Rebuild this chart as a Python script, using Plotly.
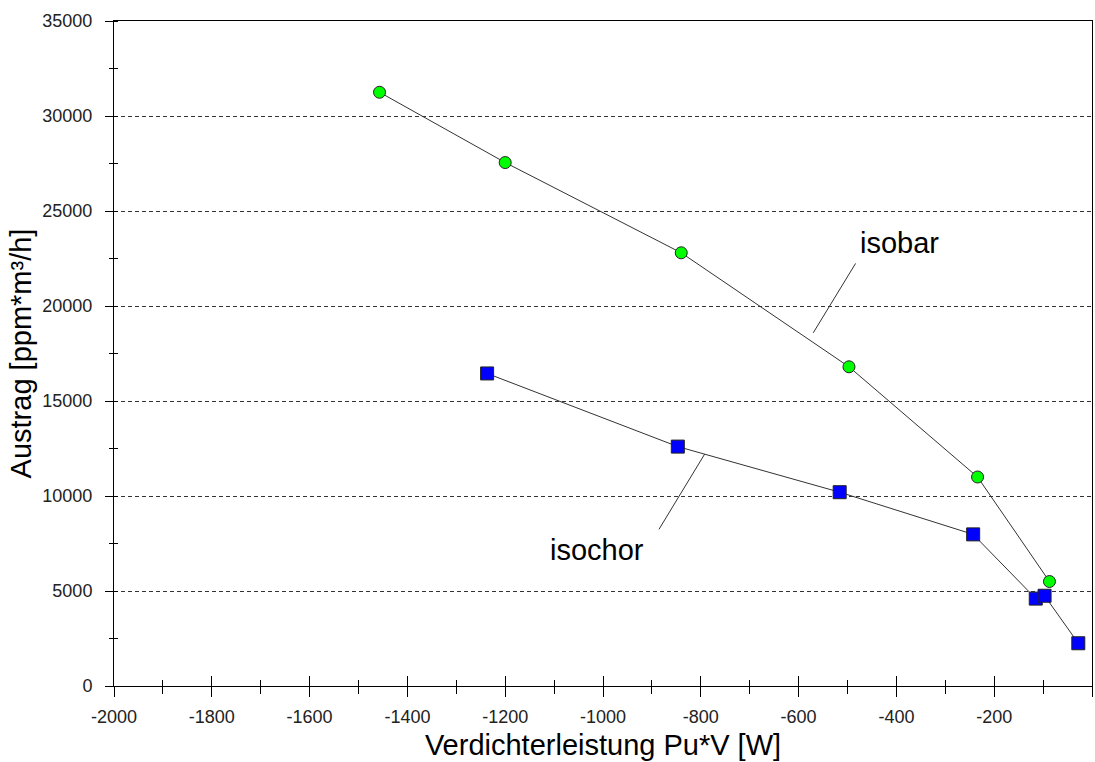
import plotly.graph_objects as go

# ---- data ----
isobar_x = [-1457, -1200, -840, -497, -234, -87]
isobar_y = [31250, 27550, 22800, 16800, 11000, 5500]
isochor_x = [-1237, -847, -516, -243, -115, -97, -28]
isochor_y = [16450, 12600, 10200, 7980, 4600, 4750, 2250]

x_tick_vals = [-2000, -1800, -1600, -1400, -1200, -1000, -800, -600, -400, -200, 0]
x_tick_text = ["-2000", "-1800", "-1600", "-1400", "-1200", "-1000", "-800", "-600", "-400", "-200", "0"]
y_tick_vals = [0, 5000, 10000, 15000, 20000, 25000, 30000, 35000]
y_tick_text = ["0", "5000", "10000", "15000", "20000", "25000", "30000", "35000"]

x_title = "Verdichterleistung Pu*V [W]"
y_title = "Austrag [ppm*m³/h]"

FONT = "Liberation Sans, Arial, sans-serif"

fig = go.Figure()

fig.add_trace(go.Scatter(
    x=isochor_x, y=isochor_y, mode="lines+markers", name="isochor",
    line=dict(color="#333333", width=1),
    marker=dict(symbol="square", size=13, color="#0000ff",
                line=dict(color="#222222", width=1)),
    showlegend=False,
))
fig.add_trace(go.Scatter(
    x=isobar_x, y=isobar_y, mode="lines+markers", name="isobar",
    line=dict(color="#333333", width=1),
    marker=dict(symbol="circle", size=12, color="#00ff00",
                line=dict(color="#222222", width=1)),
    showlegend=False,
))
# invisible trace to activate overlay axes (for crossing ticks)
fig.add_trace(go.Scatter(
    x=isobar_x, y=isobar_y, mode="markers", xaxis="x2", yaxis="y2",
    marker=dict(opacity=0), hoverinfo="skip", showlegend=False,
))

# leader lines of the labels
fig.add_shape(type="line", x0=-483.5, y0=22240, x1=-570, y1=18590,
              line=dict(color="#333333", width=1))
fig.add_shape(type="line", x0=-792, y0=12210, x1=-885.5, y1=8247,
              line=dict(color="#333333", width=1))

fig.add_annotation(x=-393, y=23315, text="isobar", showarrow=False,
                   font=dict(family=FONT, size=29, color="#000000"),
                   xanchor="center", yanchor="middle")
fig.add_annotation(x=-1012, y=7158, text="isochor", showarrow=False,
                   font=dict(family=FONT, size=29, color="#000000"),
                   xanchor="center", yanchor="middle")

fig.update_layout(
    width=1095, height=762,
    margin=dict(l=114, r=3, t=21, b=76),
    paper_bgcolor="white", plot_bgcolor="white",
    font=dict(family=FONT, color="#000000"),
    xaxis=dict(
        range=[-2000, 0], tickmode="array", tickvals=x_tick_vals, ticktext=x_tick_text,
        ticks="outside", ticklen=10, tickwidth=1, tickcolor="black",
        minor=dict(tickmode="linear", tick0=0, dtick=100, ticks="outside", ticklen=7,
                   tickcolor="black", tickwidth=1),
        showline=True, linecolor="black", linewidth=1, mirror=True,
        showgrid=False, zeroline=False,
        tickfont=dict(family=FONT, size=18, color="#222222"),
        ticklabelstandoff=4,
        title=dict(text=x_title, font=dict(family=FONT, size=29, color="#000000"), standoff=9),
    ),
    yaxis=dict(
        range=[0, 35000], tickmode="array", tickvals=y_tick_vals, ticktext=y_tick_text,
        ticks="outside", ticklen=8, tickwidth=1, tickcolor="black",
        minor=dict(tickmode="linear", tick0=0, dtick=2500, ticks="inside", ticklen=4,
                   tickcolor="black", tickwidth=1),
        showline=True, linecolor="black", linewidth=1, mirror=True,
        showgrid=True, gridcolor="#333333", gridwidth=1, griddash="4px,3px",
        zeroline=False,
        tickfont=dict(family=FONT, size=18, color="#222222"),
        ticklabelstandoff=9,
        title=dict(text=y_title, font=dict(family=FONT, size=29, color="#000000"), standoff=2),
    ),
    xaxis2=dict(
        overlaying="x", anchor="y2", range=[-2000, 0],
        tickmode="array", tickvals=x_tick_vals,
        ticks="inside", ticklen=10, tickwidth=1, tickcolor="black",
        minor=dict(tickmode="linear", tick0=0, dtick=100, ticks="inside", ticklen=6,
                   tickcolor="black", tickwidth=1),
        showticklabels=False, showline=False, showgrid=False, zeroline=False,
        side="bottom",
    ),
    yaxis2=dict(
        overlaying="y", anchor="x2", range=[0, 35000],
        tickmode="array", tickvals=y_tick_vals, ticks="",
        minor=dict(tickmode="linear", tick0=0, dtick=2500, ticks="outside", ticklen=4,
                   tickcolor="black", tickwidth=1),
        showticklabels=False, showline=False, showgrid=False, zeroline=False,
        side="left",
    ),
)

fig.write_html("out.html")
